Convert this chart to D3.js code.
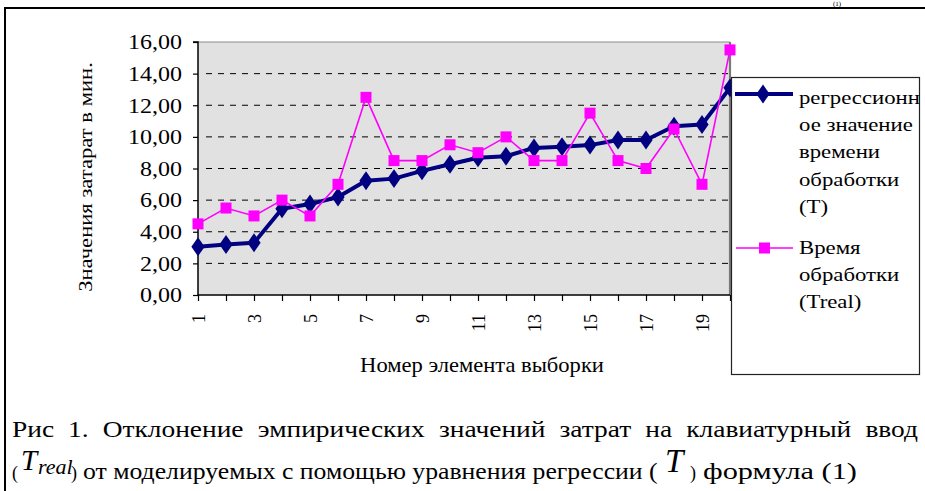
<!DOCTYPE html>
<html>
<head>
<meta charset="utf-8">
<script src="https://cdn.jsdelivr.net/npm/d3@7/dist/d3.min.js"></script>
<style>
  html, body { margin: 0; padding: 0; background: #fff; }
  svg { display: block; }
  svg text { font-family: 'Liberation Serif', 'Times New Roman', serif; fill: #000; }
</style>
</head>
<body>
<svg id="chart" width="925" height="491"></svg>
<script>
// ---- data ----
const categories = [1, 2, 3, 4, 5, 6, 7, 8, 9, 10, 11, 12, 13, 14, 15, 16, 17, 18, 19, 20];
const regressionValues = [3.05, 3.2, 3.3, 5.45, 5.75, 6.2, 7.22, 7.36, 7.85, 8.27, 8.68, 8.78, 9.3, 9.37, 9.48, 9.8, 9.8, 10.67, 10.78, 13.1];
const realValues = [4.5, 5.5, 5.0, 6.0, 5.0, 7.0, 12.5, 8.5, 8.5, 9.5, 9.0, 10.0, 8.5, 8.5, 11.5, 8.5, 8.0, 10.5, 7.0, 15.5];
const yTicks = [0, 2, 4, 6, 8, 10, 12, 14, 16];
const xTickLabels = [1, 3, 5, 7, 9, 11, 13, 15, 17, 19];
const seriesNames = [["регрессионн", "ое значение", "времени", "обработки", "(T)"], ["Время", "обработки", "(Treal)"]];
const yTitle = "Значения затарат в мин.";
const xTitle = "Номер элемента выборки";
const captionLine1 = "Рис 1. Отклонение эмпирических значений затрат на клавиатурный ввод";
const captionLine2 = "от моделируемых с помощью уравнения регрессии (";
const captionTail = "формула (1)";

const svg = d3.select("#chart");
const plot = { left: 198, right: 730, top: 42, bottom: 295 };
const x = d3.scalePoint().domain(categories).range([plot.left, plot.right]).padding(0);
const y = d3.scaleLinear().domain([0, 16]).range([plot.bottom, plot.top]);

// outer frame
svg.append("path").attr("d", `M5,491 L5,8 L925,8`).attr("fill", "none").attr("stroke", "#000").attr("stroke-width", 2);
svg.append("text").attr("x", 833).attr("y", 6).attr("font-size", 7).text("(1)");

// plot area background
svg.append("rect").attr("x", plot.left).attr("y", plot.top)
  .attr("width", plot.right - plot.left).attr("height", plot.bottom - plot.top)
  .attr("fill", "#e1e1e1");
svg.append("line").attr("x1", plot.left).attr("x2", plot.right).attr("y1", plot.top).attr("y2", plot.top)
  .attr("stroke", "#8c8c8c").attr("stroke-width", 1.2);
svg.append("line").attr("x1", plot.right).attr("x2", plot.right).attr("y1", plot.top).attr("y2", plot.bottom)
  .attr("stroke", "#7a7a7a").attr("stroke-width", 2.2);

// gridlines
svg.append("g").selectAll("line").data(yTicks.filter(d => d > 0 && d < 16)).join("line")
  .attr("x1", plot.left + 2).attr("x2", plot.right - 1)
  .attr("y1", d => y(d)).attr("y2", d => y(d))
  .attr("stroke", "#000").attr("stroke-width", 1).attr("stroke-dasharray", "6,6")
  .attr("stroke-dashoffset", -6);

function stretchX(sel, target) {
  return target / sel.node().getComputedTextLength();
}

// y axis
const yAxis = d3.axisLeft(y).tickValues(yTicks).tickSize(5).tickPadding(9)
  .tickFormat(d => d3.format(".2f")(d).replace(".", ","));
const gy = svg.append("g").attr("transform", `translate(${plot.left},0)`).call(yAxis);
gy.attr("font-family", null);
gy.select(".domain").attr("stroke", "#000").attr("stroke-width", 1.5).attr("d", `M-5,${plot.top}H0V${plot.bottom}`);
gy.selectAll(".tick line").attr("stroke", "#000").attr("stroke-width", 1.2);
const yLabels = gy.selectAll(".tick text").attr("font-size", 20).attr("fill", "#000").attr("dy", "0.34em");
const sy = stretchX(gy.select(".tick:last-of-type text"), 54);
yLabels.attr("x", 0).attr("transform", `translate(-16,0) scale(${sy},1)`);

// x axis
const xAxis = d3.axisBottom(x).tickSize(6).tickFormat(d => xTickLabels.includes(d) ? d : "");
const gx = svg.append("g").attr("transform", `translate(0,${plot.bottom})`).call(xAxis);
gx.attr("font-family", null);
gx.select(".domain").attr("stroke", "#000").attr("stroke-width", 1.5).attr("d", `M${plot.left},0H${plot.right}`);
gx.selectAll(".tick line").attr("stroke", "#000").attr("stroke-width", 1.2);
gx.selectAll(".tick text").attr("font-size", 18).attr("fill", "#000")
  .attr("text-anchor", "end").attr("transform", "rotate(-90)")
  .attr("x", -19).attr("y", 0).attr("dy", "0.35em");

// lines
const line = d3.line().x((d, i) => x(categories[i])).y(d => y(d));
svg.append("path").datum(regressionValues).attr("d", line)
  .attr("fill", "none").attr("stroke", "#000080").attr("stroke-width", 4).attr("stroke-linejoin", "round");
svg.append("g").selectAll("path").data(regressionValues).join("path")
  .attr("d", d3.symbol(d3.symbolDiamond, 115)())
  .attr("transform", (d, i) => `translate(${x(categories[i])},${y(d)}) scale(1.15,0.95)`)
  .attr("fill", "#000080");

svg.append("path").datum(realValues).attr("d", line)
  .attr("fill", "none").attr("stroke", "#ff00ff").attr("stroke-width", 1.6);
svg.append("g").selectAll("rect").data(realValues).join("rect")
  .attr("x", (d, i) => x(categories[i]) - 5.5).attr("y", d => y(d) - 5.5)
  .attr("width", 11).attr("height", 11).attr("fill", "#ff00ff");

// axis titles
const yt = svg.append("text").attr("font-size", 18).attr("text-anchor", "middle").text(yTitle);
const syt = stretchX(yt, 230);
yt.attr("transform", `translate(92,177) rotate(-90) scale(${syt},1)`);
const xt = svg.append("text").attr("font-size", 21).attr("text-anchor", "middle").text(xTitle);
const sxt = stretchX(xt, 244);
xt.attr("transform", `translate(482,372) scale(${sxt},1)`);

// legend
const lg = svg.append("g");
lg.append("rect").attr("x", 731.5).attr("y", 77.5).attr("width", 188).attr("height", 297)
  .attr("fill", "#fff").attr("stroke", "#222").attr("stroke-width", 1.2);
lg.append("line").attr("x1", 735).attr("x2", 793).attr("y1", 94).attr("y2", 94)
  .attr("stroke", "#000080").attr("stroke-width", 4);
lg.append("path").attr("d", d3.symbol(d3.symbolDiamond, 115)())
  .attr("transform", "translate(763,94) scale(1.15,0.95)").attr("fill", "#000080");
lg.append("line").attr("x1", 736).attr("x2", 793).attr("y1", 248).attr("y2", 248)
  .attr("stroke", "#ff00ff").attr("stroke-width", 1.6);
lg.append("rect").attr("x", 759).attr("y", 242.5).attr("width", 11).attr("height", 11).attr("fill", "#ff00ff");
const lgBase = [[104, 131, 158, 186, 213], [254, 281, 308]];
const probe = svg.append("text").attr("font-size", 19).text(seriesNames[0][0]);
const slg = stretchX(probe, 121);
probe.remove();
seriesNames.forEach((lines, si) => {
  lines.forEach((t, li) => {
    lg.append("text").attr("font-size", 19)
      .attr("transform", `translate(799,${lgBase[si][li]}) scale(${slg},1)`).text(t);
  });
});

// caption line 1: justified, words slightly widened
const words = captionLine1.split(" ");
const capG = svg.append("g");
const wEls = words.map(w => capG.append("text").attr("font-size", 23).text(w));
const wW = wEls.map(e => e.node().getComputedTextLength());
const gapTarget = 14;
const sc = (906 - gapTarget * (words.length - 1)) / d3.sum(wW);
let cx = 12;
wEls.forEach((e, i) => {
  e.attr("transform", `translate(${cx},437) scale(${sc},1)`);
  cx += wW[i] * sc + gapTarget;
});

// caption line 2
const c2 = svg.append("g");
c2.append("text").attr("x", 12).attr("y", 479).attr("font-size", 18).text("(");
c2.append("text").attr("x", 21).attr("y", 470).attr("font-size", 29).attr("font-style", "italic").text("T");
c2.append("text").attr("x", 38).attr("y", 474).attr("font-size", 22).attr("font-style", "italic").text("real");
c2.append("text").attr("x", 71).attr("y", 479).attr("font-size", 18).text(")");
const l2 = c2.append("text").attr("font-size", 23).text(captionLine2);
l2.attr("transform", `translate(83,479) scale(${stretchX(l2, 575)},1)`);
c2.append("text").attr("x", 665).attr("y", 472).attr("font-size", 33).attr("font-style", "italic").text("T");
c2.append("text").attr("x", 690).attr("y", 479).attr("font-size", 18).text(")");
const l3 = c2.append("text").attr("font-size", 23).text(captionTail);
l3.attr("transform", `translate(703,479) scale(${stretchX(l3, 154)},1)`);
</script>
</body>
</html>
